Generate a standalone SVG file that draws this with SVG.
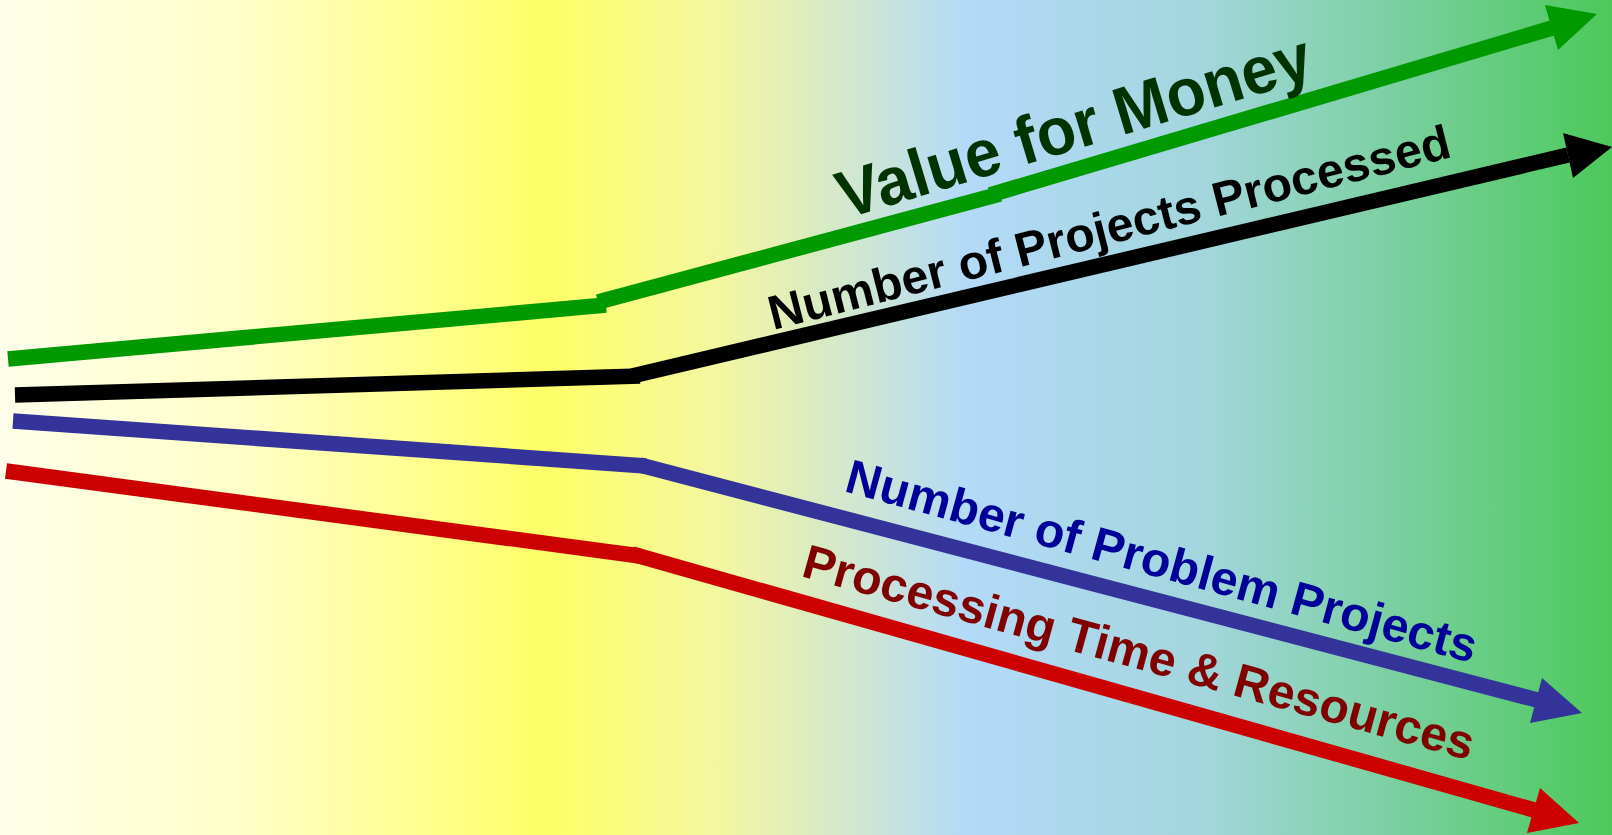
<svg xmlns="http://www.w3.org/2000/svg" width="1612" height="835" viewBox="0 0 1612 835">
<defs>
<linearGradient id="bg" x1="0" y1="0" x2="1" y2="0">
<stop offset="0" stop-color="#FFFFEA"/>
<stop offset="0.15" stop-color="#FFFFC8"/>
<stop offset="0.34" stop-color="#FFFF66"/>
<stop offset="0.45" stop-color="#F2F6A2"/>
<stop offset="0.6" stop-color="#B3DAF8"/>
<stop offset="0.75" stop-color="#A2D6DC"/>
<stop offset="1" stop-color="#4CC95A"/>
</linearGradient>
<style>
.ln{stroke-width:15.5;stroke-linecap:butt;fill:none}
.lbl{font-family:"Liberation Sans",Arial,sans-serif;font-weight:bold}
</style>
</defs>
<rect x="0" y="0" width="1612" height="835" fill="url(#bg)"/>
<g id="connectors">
<g id="value-line" stroke="#009900" class="ln">
<line x1="8" y1="359" x2="606" y2="305"/>
<line x1="598" y1="302" x2="1000" y2="194"/>
<line x1="990" y1="195" x2="1552" y2="28"/>
<polygon points="1597,14 1545,5 1558,50" fill="#009900" stroke="none"/>
</g>
<g id="processed-line" stroke="#000000" class="ln">
<line x1="15" y1="395" x2="640" y2="376"/>
<line x1="632" y1="376" x2="1568" y2="155"/>
<polygon points="1612,147 1563,133 1573,178" fill="#000000" stroke="none"/>
</g>
<g id="problem-line" stroke="#333399" class="ln">
<line x1="13" y1="421" x2="646" y2="466"/>
<line x1="640" y1="465" x2="1537" y2="700"/>
<polygon points="1582,713 1542,678 1530,723" fill="#333399" stroke="none"/>
</g>
<g id="time-line" stroke="#CC0000" class="ln">
<line x1="6" y1="471" x2="640" y2="556"/>
<line x1="632" y1="554" x2="1534" y2="810"/>
<polygon points="1579,823 1540,788 1527,833" fill="#CC0000" stroke="none"/>
</g>
</g>
<g id="label-value">
<text class="lbl" x="0" y="0" font-size="67" fill="#003300" transform="translate(845,219) rotate(-16.8)" textLength="492" lengthAdjust="spacingAndGlyphs">Value for Money</text>
</g>
<g id="label-processed">
<text class="lbl" x="0" y="0" font-size="48" fill="#000000" transform="translate(773,330) rotate(-14.3)" textLength="702" lengthAdjust="spacingAndGlyphs">Number of Projects Processed</text>
</g>
<g id="label-problem">
<text class="lbl" x="0" y="0" font-size="48" fill="#000099" transform="translate(843,491) rotate(15.3)" textLength="652" lengthAdjust="spacingAndGlyphs">Number of Problem Projects</text>
</g>
<g id="label-time">
<text class="lbl" x="0" y="0" font-size="48" fill="#800000" transform="translate(800,576) rotate(15.4)" textLength="694" lengthAdjust="spacingAndGlyphs">Processing Time &amp; Resources</text>
</g>
</svg>
